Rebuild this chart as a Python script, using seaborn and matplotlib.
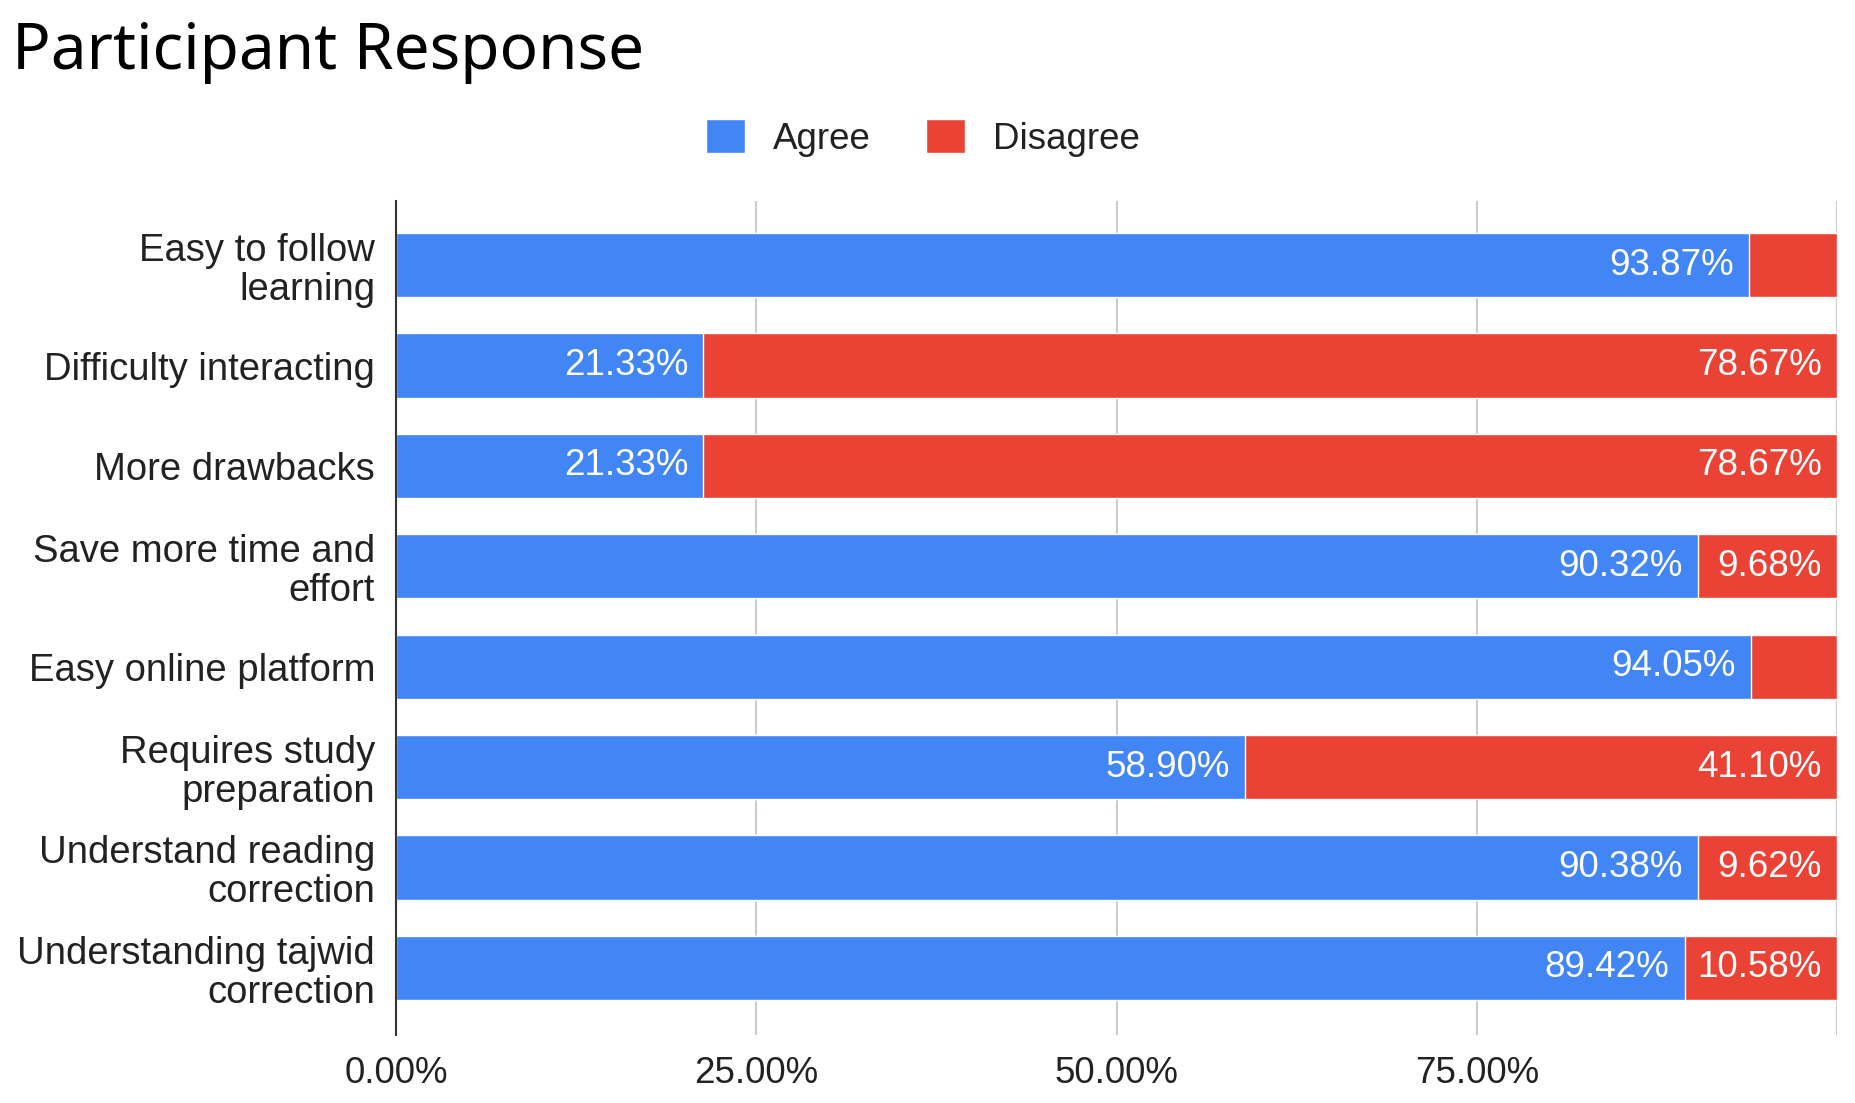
import pandas as pd
import matplotlib.pyplot as plt
import seaborn as sns
from matplotlib.patches import Patch

# data
questions = [
    "Easy to follow\nlearning",
    "Difficulty interacting",
    "More drawbacks",
    "Save more time and\neffort",
    "Easy online platform",
    "Requires study\npreparation",
    "Understand reading\ncorrection",
    "Understanding tajwid\ncorrection",
]
agree = [93.87, 21.33, 21.33, 90.32, 94.05, 58.90, 90.38, 89.42]
disagree = [6.13, 78.67, 78.67, 9.68, 5.95, 41.10, 9.62, 10.58]
x_ticks = [0, 25, 50, 75, 100]
x_tick_labels = ["0.00%", "25.00%", "50.00%", "75.00%", ""]

BLUE = "#4285F4"
RED = "#EA4335"
FS = 26.5

df = pd.DataFrame({"question": questions, "agree": agree, "disagree": disagree})
df["total"] = df["agree"] + df["disagree"]

sns.set_style("white")
plt.rcParams["font.family"] = ["Liberation Sans", "DejaVu Sans"]

fig = plt.figure(figsize=(18.55, 11.03), dpi=100)
ax = fig.add_axes([0.2135, 0.0616, 0.7768, 0.7562])

# stacked bars: full length in red, agree part in blue on top
sns.barplot(data=df, x="total", y="question", color=RED, width=0.64,
            saturation=1, ax=ax, zorder=2)
sns.barplot(data=df, x="agree", y="question", color=BLUE, width=0.64,
            saturation=1, ax=ax, zorder=3)

for i, row in df.iterrows():
    ax.annotate(f"{row['agree']:.2f}%", (row["agree"], i), xytext=(-11, 0),
                textcoords="offset points", ha="right", va="center",
                color="white", fontsize=FS, zorder=4)
    if row["disagree"] > 8:
        ax.annotate(f"{row['disagree']:.2f}%", (row["total"], i), xytext=(-11, 0),
                    textcoords="offset points", ha="right", va="center",
                    color="white", fontsize=FS, zorder=4)

ax.set_xlim(0, 100)
ax.set_ylim(7.67, -0.64)
ax.set_xticks(x_ticks)
ax.set_xticklabels(x_tick_labels)
ax.set_xlabel("")
ax.set_ylabel("")
ax.grid(axis="x", color="#cccccc", linewidth=1.5, zorder=0)
ax.tick_params(axis="x", length=0, pad=15, labelsize=FS, labelcolor="#222222")
ax.tick_params(axis="y", length=0, pad=15, labelsize=27.5, labelcolor="#222222")
for lab in ax.get_yticklabels():
    lab.set_multialignment("right")
    lab.set_linespacing(1.1)
for side in ["top", "right", "bottom"]:
    ax.spines[side].set_visible(False)
ax.spines["left"].set_color("#333333")
ax.spines["left"].set_linewidth(1.5)
ax.spines["left"].set_zorder(5)

handles = [Patch(facecolor=BLUE, label="Agree"), Patch(facecolor=RED, label="Disagree")]
fig.legend(handles=handles, loc="center", bbox_to_anchor=(923 / 1855, 1 - 138 / 1103), ncol=2,
           frameon=False, fontsize=FS, handlelength=1.05, handleheight=1.05,
           handletextpad=0.77, columnspacing=1.5, labelcolor="#222222")

fig.text(0.0065, 1 - 69 / 1103, "Participant Response", fontsize=46, color="black",
         family=["Noto Sans", "DejaVu Sans"], ha="left", va="baseline")

plt.savefig("out.png", dpi=100)
